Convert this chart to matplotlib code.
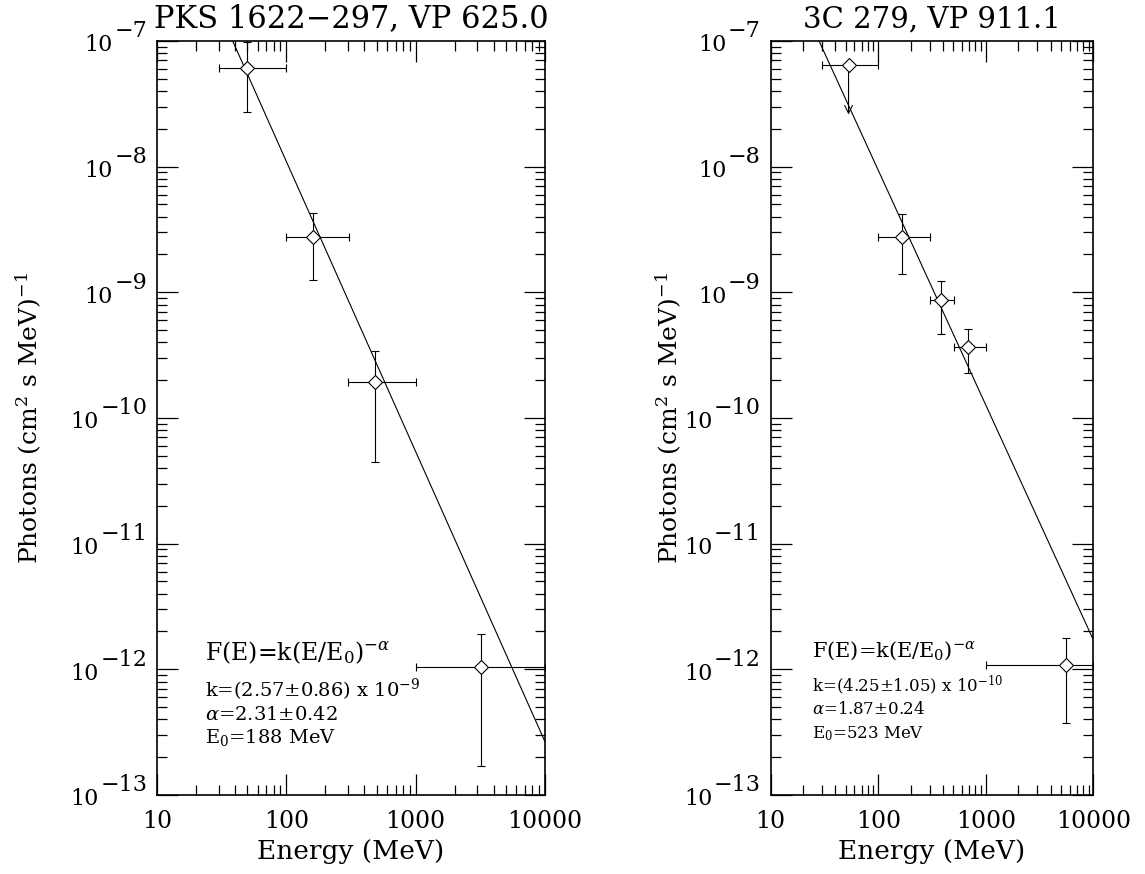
import matplotlib
matplotlib.use("Agg")
import matplotlib.pyplot as plt
import numpy as np
from matplotlib.ticker import LogLocator, FixedLocator, FixedFormatter, NullFormatter

plt.rcParams['font.family'] = ['DejaVu Serif']
plt.rcParams['mathtext.fontset'] = 'dejavuserif'

# === PKS 1622-297, VP 625.0 ===
pks_e = [50, 161, 485, 3200]
pks_elo = [30, 100, 300, 1000]
pks_ehi = [100, 305, 1000, 10000]
pks_f = [6.1e-8, 2.76e-9, 1.94e-10, 1.05e-12]
pks_flo = [2.7e-8, 1.26e-9, 4.5e-11, 1.7e-13]
pks_fhi = [9.8e-8, 4.3e-9, 3.4e-10, 1.9e-12]
pks_fit = dict(k=2.57e-9, alpha=2.31, e0=188)

# === 3C 279, VP 911.1 ===
c3_ul_e = [53]
c3_ul_elo = [30]
c3_ul_ehi = [100]
c3_ul_f = [6.45e-8]
c3_ul_arrow = [2.6e-8]
c3_e = [168, 387, 689, 5600]
c3_elo = [100, 300, 510, 1000]
c3_ehi = [306, 510, 1000, 10000]
c3_f = [2.76e-9, 8.7e-10, 3.68e-10, 1.09e-12]
c3_flo = [1.4e-9, 4.67e-10, 2.29e-10, 3.75e-13]
c3_fhi = [4.2e-9, 1.23e-9, 5.1e-10, 1.78e-12]
c3_fit = dict(k=4.25e-10, alpha=1.87, e0=523)

xticks = [10, 100, 1000, 10000]
xtick_labels = ['10', '100', '1000', '10000']
yticks = [1e-13, 1e-12, 1e-11, 1e-10, 1e-9, 1e-8, 1e-7]
ytick_exps = ['\u221213', '\u221212', '\u221211', '\u221210', '\u22129', '\u22128', '\u22127']

fig = plt.figure(figsize=(11.45, 8.74), dpi=100)
ax1 = fig.add_axes([0.137, 0.0904, 0.339, 0.8627])
ax2 = fig.add_axes([0.673, 0.0904, 0.282, 0.8627])


def power_law(e, fit):
    e = np.asarray(e, dtype=float)
    return fit['k'] * (e / fit['e0']) ** (-fit['alpha'])


def points(ax, e, elo, ehi, f, flo, fhi):
    e = np.array(e); f = np.array(f)
    xerr = [e - np.array(elo), np.array(ehi) - e]
    yerr = [f - np.array(flo), np.array(fhi) - f]
    ax.errorbar(e, f, xerr=xerr, yerr=yerr, fmt='D', mfc='white', mec='black',
                ms=7, mew=0.8, ecolor='black', elinewidth=0.8, capsize=3,
                capthick=0.8, zorder=3)


def style(ax, title, tsize, fit, lines, tx, ty, fsize, lsize, ylab_x):
    ax.set_xscale('log')
    ax.set_yscale('log')
    ax.set_xlim(10, 10000)
    ax.set_ylim(1e-13, 1e-7)
    xs = np.logspace(1, 4, 200)
    ax.plot(xs, power_law(xs, fit), color='black', lw=0.8, zorder=2)
    ax.xaxis.set_major_locator(FixedLocator(xticks))
    ax.xaxis.set_major_formatter(FixedFormatter(xtick_labels))
    ax.yaxis.set_major_locator(FixedLocator(yticks))
    ax.yaxis.set_major_formatter(NullFormatter())
    ax.xaxis.set_minor_locator(LogLocator(base=10, subs=np.arange(2, 10), numticks=20))
    ax.yaxis.set_minor_locator(LogLocator(base=10, subs=np.arange(2, 10), numticks=20))
    ax.xaxis.set_minor_formatter(NullFormatter())
    ax.yaxis.set_minor_formatter(NullFormatter())
    ax.tick_params(which='both', direction='in', top=True, right=True, width=0.9)
    ax.tick_params(which='major', length=15)
    ax.tick_params(which='minor', length=7)
    ax.tick_params(axis='x', labelsize=17, pad=11)
    for s in ax.spines.values():
        s.set_linewidth(1.2)

    # y tick labels as 10 with a large exponent
    for y, ex in zip(yticks, ytick_exps):
        et = ax.annotate(ex, xy=(0, y), xycoords=('axes fraction', 'data'),
                         xytext=(-7, -1), textcoords='offset points',
                         ha='right', va='bottom', fontsize=16)
        ax.annotate('10', xy=(0, 0.3), xycoords=et, xytext=(-1, 1),
                    textcoords='offset points', ha='right', va='top', fontsize=16)

    ax.set_title(title, fontsize=tsize, pad=10)
    ax.set_xlabel('Energy (MeV)', fontsize=19, labelpad=4)
    ax.set_ylabel(r'Photons (cm$^2$ s MeV)$^{-1}$', fontsize=18)
    ax.yaxis.set_label_coords(ylab_x, 0.5)
    ax.text(tx, ty[0], r'F(E)=k(E/E$_0$)$^{-\alpha}$', transform=ax.transAxes,
            fontsize=fsize, va='center')
    for y, s in zip(ty[1:], lines):
        ax.text(tx, y, s, transform=ax.transAxes, fontsize=lsize, va='center')


points(ax1, pks_e, pks_elo, pks_ehi, pks_f, pks_flo, pks_fhi)
style(ax1, 'PKS 1622\u2212297, VP 625.0', 22, pks_fit,
      [r'k=(2.57$\pm$0.86) x 10$^{-9}$', r'$\alpha$=2.31$\pm$0.42', r'E$_0$=188 MeV'],
      0.124, [0.189, 0.139, 0.106, 0.076], 17, 14, -0.291)

points(ax2, c3_e, c3_elo, c3_ehi, c3_f, c3_flo, c3_fhi)
# upper limit
ul_e = np.array(c3_ul_e)
ax2.errorbar(ul_e, c3_ul_f, xerr=[ul_e - np.array(c3_ul_elo), np.array(c3_ul_ehi) - ul_e],
             fmt='D', mfc='white', mec='black', ms=7, mew=0.8, ecolor='black',
             elinewidth=0.8, capsize=3, capthick=0.8, zorder=3)
for e, f0, f1 in zip(c3_ul_e, c3_ul_f, c3_ul_arrow):
    ax2.annotate('', xy=(e, f1), xytext=(e, f0),
                 arrowprops=dict(arrowstyle='->', lw=0.8, color='black',
                                 shrinkA=0, shrinkB=0, mutation_scale=14))
style(ax2, '3C 279, VP 911.1', 21, c3_fit,
      [r'k=(4.25$\pm$1.05) x 10$^{-10}$', r'$\alpha$=1.87$\pm$0.24', r'E$_0$=523 MeV'],
      0.127, [0.192, 0.146, 0.113, 0.081], 15, 12, -0.269)

fig.savefig('out.png', dpi=100)
